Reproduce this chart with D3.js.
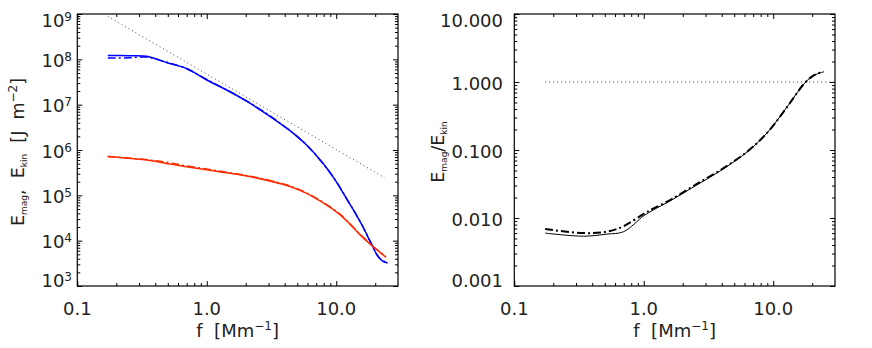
<!DOCTYPE html>
<html>
<head>
<meta charset="utf-8">
<script src="https://cdn.jsdelivr.net/npm/d3@7"></script>
<style>
  body { margin: 0; background: #fff; }
  text { font-family: "DejaVu Sans", sans-serif; fill: #222; white-space: pre; }
</style>
</head>
<body>
<svg id="chart" width="872" height="348"></svg>
<script>
// kinetic energy spectrum (blue)
let kinFreq = [0.172, 0.25, 0.343, 0.5, 0.698, 1.0, 1.5, 2.15, 3.24, 4.37, 5.87, 7.9, 9.8, 12.0, 14.0, 16.1, 18.6, 21.1, 23.0, 25.0];
let kinSolid = [1.22e8, 1.2e8, 1.17e8, 8.3e7, 6.3e7, 3.5e7, 1.95e7, 1.08e7, 5.0e6, 2.7e6, 1.3e6, 5.1e5, 2.2e5, 8.5e4, 4.1e4, 2.0e4, 8.7e3, 4.4e3, 3.5e3, 3.2e3];
let kinDash = [1.07e8, 1.08e8, 1.12e8, 8.5e7, 6.2e7, 3.6e7, 1.95e7, 1.1e7, 5.1e6, 2.7e6, 1.32e6, 5.0e5, 2.2e5, 8.6e4, 4.1e4, 2.0e4, 8.8e3, 4.5e3, 3.6e3, 3.3e3];

// magnetic energy spectrum (red)
let magFreq = [0.172, 0.364, 0.5, 0.656, 1.19, 2.15, 3.86, 5.2, 7.0, 10.4, 12.6, 14.9, 18.6, 22.0, 24.2];
let magSolid = [7.2e5, 5.9e5, 5.0e5, 4.4e5, 3.4e5, 2.6e5, 1.75e5, 1.3e5, 8.5e4, 4.0e4, 2.4e4, 1.45e4, 8.0e3, 5.4e3, 4.3e3];
let magDash = [7.2e5, 6.0e5, 5.3e5, 4.6e5, 3.5e5, 2.65e5, 1.8e5, 1.33e5, 8.7e4, 4.1e4, 2.45e4, 1.48e4, 8.2e3, 5.5e3, 4.4e3];

// reference power law (dotted)
let powerFreq = [0.172, 23.6];
let powerVal = [8.85e8, 2.45e5];

// ratio Emag/Ekin
let ratioFreq = [0.173, 0.343, 0.52, 0.70, 1.0, 1.19, 1.61, 2.45, 3.94, 6.35, 9.0, 12.8, 17.2, 19.9, 22.0, 24.5];
let ratioSolid = [0.0060, 0.0054, 0.0058, 0.0063, 0.0108, 0.0132, 0.018, 0.029, 0.050, 0.095, 0.18, 0.43, 0.93, 1.2, 1.32, 1.41];
let ratioDash = [0.0069, 0.0060, 0.0063, 0.0076, 0.0115, 0.0138, 0.0185, 0.030, 0.051, 0.096, 0.18, 0.43, 0.93, 1.2, 1.33, 1.42];
let unityFreq = [0.173, 29.5];
let unityVal = [1, 1];

let xTicks = [0.1, 1, 10];
let xTickLabels = ["0.1", "1.0", "10.0"];
let leftTicks = [1e3, 1e4, 1e5, 1e6, 1e7, 1e8, 1e9];
let leftExps = ["3", "4", "5", "6", "7", "8", "9"];
let rightTicks = [0.001, 0.01, 0.1, 1, 10];
let rightTickLabels = ["0.001", "0.010", "0.100", "1.000", "10.000"];

let svg = d3.select("#chart");
let plotTop = 14, plotBottom = 286;

let minors = (lo, hi) => {
  let out = [];
  for (let e = Math.floor(Math.log10(lo)); e < Math.ceil(Math.log10(hi)); e++) {
    for (let m = 2; m <= 9; m++) {
      let v = m * Math.pow(10, e);
      if (v > lo && v < hi) out.push(v);
    }
  }
  return out;
};

let drawFrame = (x, y, yMajors) => {
  let g = svg.append("g");
  let [x0, x1] = x.range();
  let axes = [
    [d3.axisBottom(x), `translate(0,${plotBottom})`, x],
    [d3.axisTop(x), `translate(0,${plotTop})`, x],
    [d3.axisLeft(y), `translate(${x0},0)`, y],
    [d3.axisRight(y), `translate(${x1},0)`, y]
  ];
  axes.forEach(([ax, tr, sc], i) => {
    let majors = i < 2 ? xTicks : yMajors;
    let dom = sc.domain();
    g.append("g").attr("transform", tr)
      .call(ax.tickValues(majors).tickSize(-5).tickFormat(""))
      .call((a) => a.select(".domain").remove());
    g.append("g").attr("transform", tr)
      .call(ax.tickValues(minors(dom[0], dom[1])).tickSize(-3).tickFormat(""))
      .call((a) => a.select(".domain").remove());
  });
  g.selectAll("line").attr("stroke", "#000").attr("stroke-width", 1);
  g.append("rect")
    .attr("x", x0).attr("y", plotTop)
    .attr("width", x1 - x0).attr("height", plotBottom - plotTop)
    .attr("fill", "none").attr("stroke", "#000").attr("stroke-width", 1.2);

  g.selectAll("text.xl")
    .data(xTicks)
    .enter()
    .append("text")
    .attr("class", "xl")
    .attr("x", (d) => x(d))
    .attr("y", 315)
    .attr("text-anchor", "middle")
    .attr("font-size", 18)
    .text((d, i) => xTickLabels[i]);

  let xt = g.append("text")
    .attr("x", (x0 + x1) / 2)
    .attr("y", 337)
    .attr("text-anchor", "middle")
    .attr("font-size", 18);
  xt.append("tspan").text("f  [Mm");
  xt.append("tspan").attr("font-size", 12).attr("dy", -7).text("\u22121");
  xt.append("tspan").attr("dy", 7).text("]");
};

let labelY = (y, d, i, n) => {
  if (i === n - 1) return y(d) + 13;
  if (i === 0) return y(d) + 1;
  return y(d) + 7.5;
};

let line = (x, y) => d3.line().curve(d3.curveCatmullRom.alpha(0.5)).x((d) => x(d[0])).y((d) => y(d[1]));
let zip = (a, b) => a.map((v, i) => [v, b[i]]);

// ---- left panel ----
let xL = d3.scaleLog().domain([0.1, 30]).range([77.3, 398]);
let yL = d3.scaleLog().domain([1e3, 1e9]).range([plotBottom, plotTop]);

drawFrame(xL, yL, leftTicks);

leftTicks.forEach((d, i) => {
  let t = svg.append("text")
    .attr("x", 72)
    .attr("y", labelY(yL, d, i, leftTicks.length))
    .attr("text-anchor", "end")
    .attr("font-size", 18);
  t.append("tspan").text("10");
  t.append("tspan").attr("font-size", 12).attr("dy", -6).text(leftExps[i]);
});

let ytL = svg.append("text")
  .attr("transform", "translate(24,152) rotate(-90)")
  .attr("text-anchor", "middle")
  .attr("font-size", 17.5);
ytL.append("tspan").text("E");
ytL.append("tspan").attr("font-size", 9).attr("dy", 3).text("mag");
ytL.append("tspan").attr("dy", -3).text(",  E");
ytL.append("tspan").attr("font-size", 9).attr("dy", 3).text("kin");
ytL.append("tspan").attr("dy", -3).text("  [J  m");
ytL.append("tspan").attr("font-size", 12).attr("dy", -7).text("\u22122");
ytL.append("tspan").attr("dy", 7).text("]");

let lL = line(xL, yL);
svg.append("path").attr("d", lL(zip(powerFreq, powerVal)))
  .attr("fill", "none").attr("stroke", "#444").attr("stroke-width", 1).attr("stroke-dasharray", "1,3");
svg.append("path").attr("d", lL(zip(kinFreq, kinSolid)))
  .attr("fill", "none").attr("stroke", "#0000ff").attr("stroke-width", 1.5);
svg.append("path").attr("d", lL(zip(kinFreq, kinDash)))
  .attr("fill", "none").attr("stroke", "#0000ff").attr("stroke-width", 1.5).attr("stroke-dasharray", "8,3,2,3");
svg.append("path").attr("d", lL(zip(magFreq, magSolid)))
  .attr("fill", "none").attr("stroke", "#ff2a00").attr("stroke-width", 1.5);
svg.append("path").attr("d", lL(zip(magFreq, magDash)))
  .attr("fill", "none").attr("stroke", "#ff2a00").attr("stroke-width", 1.5).attr("stroke-dasharray", "8,3,2,3");

// ---- right panel ----
let xR = d3.scaleLog().domain([0.1, 30]).range([514.3, 835]);
let yR = d3.scaleLog().domain([0.001, 10]).range([plotBottom, plotTop]);

drawFrame(xR, yR, rightTicks);

rightTicks.forEach((d, i) => {
  svg.append("text")
    .attr("x", 503)
    .attr("y", labelY(yR, d, i, rightTicks.length))
    .attr("text-anchor", "end")
    .attr("font-size", 18)
    .text(rightTickLabels[i]);
});

let ytR = svg.append("text")
  .attr("transform", "translate(444,152) rotate(-90)")
  .attr("text-anchor", "middle")
  .attr("font-size", 17.5);
ytR.append("tspan").text("E");
ytR.append("tspan").attr("font-size", 9).attr("dy", 3).text("mag");
ytR.append("tspan").attr("dy", -3).text("/E");
ytR.append("tspan").attr("font-size", 9).attr("dy", 3).text("kin");

let lR = line(xR, yR);
svg.append("path").attr("d", lR(zip(unityFreq, unityVal)))
  .attr("fill", "none").attr("stroke", "#444").attr("stroke-width", 1).attr("stroke-dasharray", "1,3");
svg.append("path").attr("d", lR(zip(ratioFreq, ratioSolid)))
  .attr("fill", "none").attr("stroke", "#000").attr("stroke-width", 1);
svg.append("path").attr("d", lR(zip(ratioFreq, ratioDash)))
  .attr("fill", "none").attr("stroke", "#000").attr("stroke-width", 2).attr("stroke-dasharray", "8,3,2,3");
</script>
</body>
</html>
